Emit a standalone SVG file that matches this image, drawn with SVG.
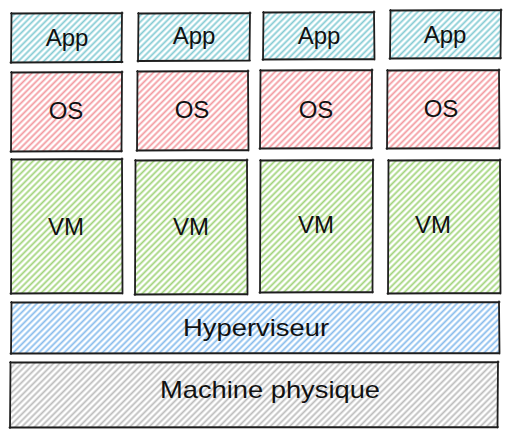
<svg xmlns="http://www.w3.org/2000/svg" width="511" height="437" viewBox="0 0 511 437">
<defs>
<pattern id="hApp" width="4.5" height="4.5" patternUnits="userSpaceOnUse" patternTransform="rotate(-45)"><line x1="0" y1="2.25" x2="4.5" y2="2.25" stroke="#86ccd4" stroke-width="1.8"/></pattern>
<pattern id="hOS" width="4.5" height="4.5" patternUnits="userSpaceOnUse" patternTransform="rotate(-45)"><line x1="0" y1="2.25" x2="4.5" y2="2.25" stroke="#f39aa0" stroke-width="1.8"/></pattern>
<pattern id="hVM" width="4.5" height="4.5" patternUnits="userSpaceOnUse" patternTransform="rotate(-45)"><line x1="0" y1="2.25" x2="4.5" y2="2.25" stroke="#a2d47c" stroke-width="1.8"/></pattern>
<pattern id="hHyp" width="4.5" height="4.5" patternUnits="userSpaceOnUse" patternTransform="rotate(-45)"><line x1="0" y1="2.25" x2="4.5" y2="2.25" stroke="#88bcec" stroke-width="1.8"/></pattern>
<pattern id="hMac" width="4.5" height="4.5" patternUnits="userSpaceOnUse" patternTransform="rotate(-45)"><line x1="0" y1="2.25" x2="4.5" y2="2.25" stroke="#bdbdbd" stroke-width="1.8"/></pattern>
</defs>
<style>
.o{fill:none;stroke:#1e1e1e;stroke-width:1.8;stroke-linecap:round;stroke-linejoin:round}
.t{font-family:"Liberation Sans","DejaVu Sans",sans-serif;font-size:24px;fill:#111111;text-anchor:middle}
.fa{fill:url(#hApp)}.fo{fill:url(#hOS)}.fv{fill:url(#hVM)}.fh{fill:url(#hHyp)}.fm{fill:url(#hMac)}
</style>
<rect width="511" height="437" fill="#ffffff"/>

<g id="app1"><rect class="fa" x="11" y="13" width="111" height="49"/><path class="o" d="M11 13.5 L122.5 13 M122 12.5 L121.5 62.5 M122.5 62 L10.5 62.5 M11 63 L11.5 13"/><text class="t" x="67" y="46">App</text></g>
<g id="app2"><rect class="fa" x="138" y="13" width="112" height="48"/><path class="o" d="M138 13.5 L250.5 13 M250 12.5 L249.5 60.5 M250 60.5 L137.5 61 M138 61.5 L138.5 13"/><text class="t" x="194" y="44">App</text></g>
<g id="app3"><rect class="fa" x="263" y="12" width="111" height="47"/><path class="o" d="M263 12.5 L374.5 12 M374 11.5 L374.5 59.5 M374.5 59 L262.5 59.5 M263 60 L263.5 12"/><text class="t" x="319" y="44">App</text></g>
<g id="app4"><rect class="fa" x="390" y="10" width="111" height="48"/><path class="o" d="M390 10.5 L501.5 10 M501 9.5 L500.5 58.5 M501 58 L389.5 58.5 M390 59 L390.5 10"/><text class="t" x="445" y="43">App</text></g>

<g id="os1"><rect class="fo" x="11" y="72" width="111" height="79"/><path class="o" d="M11 72.5 L122.5 72 M122 71.5 L121.5 151.5 M122 151 L10.5 151.5 M11 152 L11.5 72"/><text class="t" x="66" y="119">OS</text></g>
<g id="os2"><rect class="fo" x="137" y="71" width="111" height="79"/><path class="o" d="M137 71.5 L248.5 71 M248 70.5 L248.5 150.5 M248.5 150 L136.5 150.5 M137 151 L137.5 71"/><text class="t" x="192" y="118">OS</text></g>
<g id="os3"><rect class="fo" x="260" y="70" width="112" height="78"/><path class="o" d="M260 70.5 L372.5 70 M372 69.5 L371.5 148.5 M372 148 L259.5 148.5 M260 149 L260.5 70"/><text class="t" x="316" y="118">OS</text></g>
<g id="os4"><rect class="fo" x="387" y="70" width="112" height="78"/><path class="o" d="M387 70.5 L499.5 70 M499 69.5 L499.5 148.5 M499.5 148 L386.5 148.5 M387 149 L387.5 70"/><text class="t" x="441" y="117">OS</text></g>

<g id="vm1"><rect class="fv" x="11" y="159" width="111" height="134"/><path class="o" d="M11 159.5 L122.5 159 M122 158.5 L122.5 293.5 M122.5 293 L10.5 293.5 M11 294 L11.5 159"/><text class="t" x="66" y="235">VM</text></g>
<g id="vm2"><rect class="fv" x="135" y="160" width="112" height="134"/><path class="o" d="M135 160.5 L247.5 160 M247 159.5 L247.5 294.5 M247.5 294 L134.5 294.5 M135 295 L135.5 160"/><text class="t" x="191" y="235">VM</text></g>
<g id="vm3"><rect class="fv" x="260" y="160" width="113" height="132"/><path class="o" d="M260 160.5 L373.5 160 M373 159.5 L372.5 292.5 M373 292 L259.5 292.5 M260 293 L260.5 160"/><text class="t" x="316" y="233">VM</text></g>
<g id="vm4"><rect class="fv" x="388" y="160" width="112" height="133"/><path class="o" d="M388 160.5 L500.5 160 M500 159.5 L500.5 293.5 M500.5 293 L387.5 293.5 M388 294 L388.5 160"/><text class="t" x="433" y="233">VM</text></g>

<g id="hyperviseur"><rect class="fh" x="11" y="302" width="488" height="51"/><path class="o" d="M11 302.5 L499.5 302 M499 301.5 L499.5 353.5 M499.5 353 L10.5 353.5 M11 354 L11.5 302"/><text class="t" x="256" y="336" textLength="146" lengthAdjust="spacingAndGlyphs">Hyperviseur</text></g>

<g id="machine"><rect class="fm" x="10" y="362" width="488" height="65"/><path class="o" d="M10 362.5 L498.5 362 M498 361.5 L497.5 427.5 M498 427 L9.5 427.5 M10 428 L10.5 362"/><text class="t" x="270" y="398" textLength="220" lengthAdjust="spacingAndGlyphs">Machine physique</text></g>
</svg>
